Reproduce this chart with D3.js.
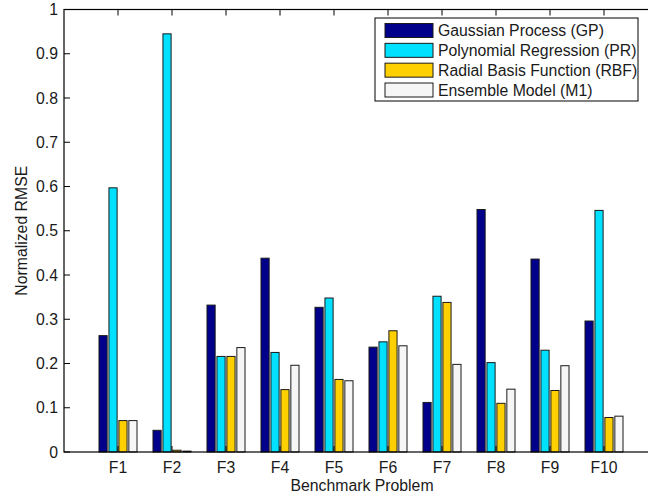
<!DOCTYPE html>
<html>
<head>
<meta charset="utf-8">
<script src="https://cdn.jsdelivr.net/npm/d3@7/dist/d3.min.js"></script>
<style>
  html, body { margin: 0; padding: 0; background: #fff; }
  svg { display: block; font-family: "Liberation Sans", Arial, Helvetica, sans-serif; }
</style>
</head>
<body>
<svg id="chart" width="648" height="497"></svg>
<script>
// Benchmark problems on the x axis
const problems = ["F1", "F2", "F3", "F4", "F5", "F6", "F7", "F8", "F9", "F10"];

// Surrogate models compared
const models = [
  "Gaussian Process (GP)",
  "Polynomial Regression (PR)",
  "Radial Basis Function (RBF)",
  "Ensemble Model (M1)"
];
const modelColors = ["#00008b", "#00e0ff", "#ffd000", "#f6f6f6"];

// Normalized RMSE per model, one value per benchmark problem
const gpValues  = [0.263, 0.049, 0.332, 0.438, 0.327, 0.237, 0.112, 0.548, 0.436, 0.296];
const prValues  = [0.597, 0.945, 0.216, 0.225, 0.348, 0.249, 0.352, 0.202, 0.230, 0.546];
const rbfValues = [0.071, 0.004, 0.216, 0.141, 0.164, 0.274, 0.338, 0.110, 0.139, 0.078];
const m1Values  = [0.071, 0.002, 0.236, 0.196, 0.161, 0.240, 0.198, 0.142, 0.195, 0.081];

const yTicks = [0, 0.1, 0.2, 0.3, 0.4, 0.5, 0.6, 0.7, 0.8, 0.9, 1];

const seriesValues = [gpValues, prValues, rbfValues, m1Values];

const svg = d3.select("#chart");
const plotLeft = 64, plotRight = 658, plotTop = 9.5, plotBottom = 452;
const fontSize = 15.8;

// MATLAB-style bar axis: groups sit at integer positions 1..10 within [0, 11]
const x = d3.scaleLinear().domain([0, problems.length + 1]).range([plotLeft, plotRight]);
const y = d3.scaleLinear().domain([0, 1]).range([plotBottom, plotTop]);
const inner = d3.scaleBand().domain(d3.range(models.length)).range([-0.352, 0.352]).paddingInner(0.18);

// Bars
const groups = svg.append("g").selectAll("g")
  .data(seriesValues)
  .join("g")
  .attr("fill", (d, i) => modelColors[i]);

groups.selectAll("rect")
  .data((vals, si) => vals.map((v, pi) => ({ v, pi, si })))
  .join("rect")
  .attr("x", d => x(d.pi + 1 + inner(d.si)))
  .attr("width", d => x(inner.bandwidth()) - x(0))
  .attr("y", d => y(d.v))
  .attr("height", d => y(0) - y(d.v))
  .attr("stroke", "#1a1a1a")
  .attr("stroke-width", 1);

// Axis box
svg.append("rect")
  .attr("x", plotLeft).attr("y", plotTop)
  .attr("width", plotRight - plotLeft).attr("height", plotBottom - plotTop)
  .attr("fill", "none").attr("stroke", "#000").attr("stroke-width", 1.2);

const tickLen = 6;
const fmt = d3.format("~g");

// Y ticks (inward) and labels
const yAxis = svg.append("g");
yAxis.selectAll("line")
  .data(yTicks)
  .join("line")
  .attr("x1", plotLeft).attr("x2", plotLeft + tickLen)
  .attr("y1", d => y(d)).attr("y2", d => y(d))
  .attr("stroke", "#000");
yAxis.selectAll("text")
  .data(yTicks)
  .join("text")
  .attr("x", plotLeft - 6)
  .attr("y", d => y(d))
  .attr("dy", "0.36em")
  .attr("text-anchor", "end")
  .attr("font-size", fontSize)
  .attr("fill", "#1a1a1a")
  .text(d => fmt(d));

// X ticks (inward, top and bottom) and labels
const xAxis = svg.append("g");
const xPos = problems.map((p, i) => i + 1);
xAxis.selectAll("line.b")
  .data(xPos)
  .join("line")
  .attr("class", "b")
  .attr("x1", d => x(d)).attr("x2", d => x(d))
  .attr("y1", plotBottom).attr("y2", plotBottom - tickLen)
  .attr("stroke", "#000");
xAxis.selectAll("line.t")
  .data(xPos)
  .join("line")
  .attr("class", "t")
  .attr("x1", d => x(d)).attr("x2", d => x(d))
  .attr("y1", plotTop).attr("y2", plotTop + tickLen)
  .attr("stroke", "#000");
xAxis.selectAll("text")
  .data(problems)
  .join("text")
  .attr("x", (d, i) => x(i + 1))
  .attr("y", 472.5)
  .attr("text-anchor", "middle")
  .attr("font-size", fontSize)
  .attr("fill", "#1a1a1a")
  .text(d => d);

// Axis titles
svg.append("text")
  .attr("x", (plotLeft + plotRight) / 2 + 1)
  .attr("y", 490.5)
  .attr("text-anchor", "middle")
  .attr("font-size", fontSize)
  .attr("fill", "#1a1a1a")
  .text("Benchmark Problem");

svg.append("text")
  .attr("transform", `translate(27, ${(plotTop + plotBottom) / 2}) rotate(-90)`)
  .attr("text-anchor", "middle")
  .attr("font-size", fontSize)
  .attr("fill", "#1a1a1a")
  .text("Normalized RMSE");

// Legend
const legend = svg.append("g");
legend.append("rect")
  .attr("x", 375).attr("y", 18)
  .attr("width", 263).attr("height", 83)
  .attr("fill", "#fff").attr("stroke", "#000").attr("stroke-width", 1);
const rowY = d3.scaleLinear().domain([0, 3]).range([30.5, 90]);
const rows = legend.selectAll("g")
  .data(models)
  .join("g")
  .attr("transform", (d, i) => `translate(0, ${rowY(i)})`);
rows.append("rect")
  .attr("x", 385).attr("y", -7)
  .attr("width", 48).attr("height", 14)
  .attr("fill", (d, i) => modelColors[i])
  .attr("stroke", "#1a1a1a").attr("stroke-width", 1);
rows.append("text")
  .attr("x", 438).attr("y", 0)
  .attr("dy", "0.36em")
  .attr("font-size", fontSize)
  .attr("fill", "#1a1a1a")
  .text(d => d);
</script>
</body>
</html>
